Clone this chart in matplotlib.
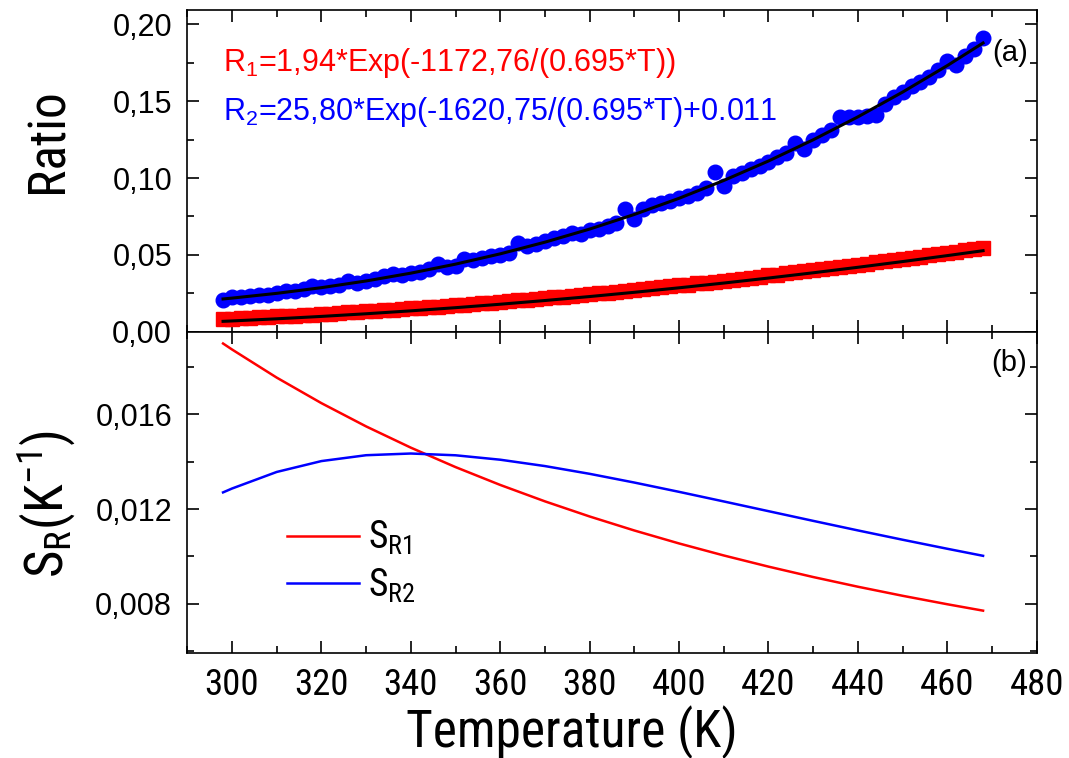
import matplotlib
matplotlib.use("Agg")
import matplotlib.pyplot as plt
from matplotlib.ticker import MultipleLocator, FuncFormatter
from matplotlib import font_manager


def first_font(names):
    for n in names:
        try:
            font_manager.findfont(font_manager.FontProperties(family=n), fallback_to_default=False)
            return n
        except ValueError:
            pass
    return 'Liberation Sans'


NARROW = first_font(['Arial Narrow', 'Liberation Sans Narrow', 'Roboto Condensed',
                     'Archivo Narrow', 'PT Sans Narrow', 'Open Sans Condensed'])

plt.rcParams['font.family'] = ['Liberation Sans', 'DejaVu Sans']
plt.rcParams['mathtext.fontset'] = 'custom'
plt.rcParams['mathtext.rm'] = NARROW
plt.rcParams['mathtext.it'] = NARROW + ':italic'

# measured points, 2 K steps
temp = [298, 300, 302, 304, 306, 308, 310, 312, 314, 316, 318, 320, 322, 324, 326, 328,
        330, 332, 334, 336, 338, 340, 342, 344, 346, 348, 350, 352, 354, 356, 358, 360,
        362, 364, 366, 368, 370, 372, 374, 376, 378, 380, 382, 384, 386, 388, 390, 392,
        394, 396, 398, 400, 402, 404, 406, 408, 410, 412, 414, 416, 418, 420, 422, 424,
        426, 428, 430, 432, 434, 436, 438, 440, 442, 444, 446, 448, 450, 452, 454, 456,
        458, 460, 462, 464, 466, 468]

ratio_r1 = [0.0083, 0.0085, 0.0087, 0.0089, 0.0093, 0.0094, 0.0099, 0.0101, 0.0105, 0.0108,
            0.0110, 0.0115, 0.0117, 0.0121, 0.0125, 0.0127, 0.0133, 0.0135, 0.0139, 0.0143,
            0.0147, 0.0151, 0.0154, 0.0160, 0.0163, 0.0167, 0.0172, 0.0175, 0.0181, 0.0185,
            0.0189, 0.0194, 0.0199, 0.0203, 0.0208, 0.0213, 0.0218, 0.0224, 0.0228, 0.0234,
            0.0238, 0.0245, 0.0249, 0.0255, 0.0261, 0.0266, 0.0272, 0.0277, 0.0284, 0.0290,
            0.0295, 0.0302, 0.0307, 0.0314, 0.0320, 0.0326, 0.0333, 0.0339, 0.0346, 0.0352,
            0.0358, 0.0366, 0.0372, 0.0379, 0.0386, 0.0393, 0.0400, 0.0407, 0.0414, 0.0421,
            0.0429, 0.0436, 0.0443, 0.0451, 0.0459, 0.0466, 0.0474, 0.0482, 0.0489, 0.0497,
            0.0505, 0.0513, 0.0521, 0.0529, 0.0537, 0.0545]

ratio_r2 = [0.0205, 0.0225, 0.0228, 0.0232, 0.0240, 0.0238, 0.0255, 0.0268, 0.0262, 0.0275,
            0.0300, 0.0290, 0.0295, 0.0305, 0.0330, 0.0318, 0.0330, 0.0345, 0.0365, 0.0375,
            0.0372, 0.0385, 0.0390, 0.0405, 0.0440, 0.0420, 0.0425, 0.0475, 0.0468, 0.0480,
            0.0490, 0.0500, 0.0512, 0.0575, 0.0555, 0.0570, 0.0590, 0.0610, 0.0625, 0.0640,
            0.0635, 0.0660, 0.0668, 0.0690, 0.0705, 0.0800, 0.0730, 0.0800, 0.0825, 0.0835,
            0.0850, 0.0870, 0.0885, 0.0905, 0.0935, 0.1040, 0.0950, 0.1010, 0.1035, 0.1060,
            0.1080, 0.1105, 0.1135, 0.1165, 0.1230, 0.1190, 0.1250, 0.1280, 0.1310, 0.1395,
            0.1400, 0.1400, 0.1405, 0.1410, 0.1480, 0.1530, 0.1560, 0.1600, 0.1625, 0.1655,
            0.1700, 0.1760, 0.1735, 0.1795, 0.1840, 0.1910]

# fitted curves and sensitivities, 10 K steps
temp_fit = [298, 300, 310, 320, 330, 340, 350, 360, 370, 380, 390, 400, 410, 420, 430,
            440, 450, 460, 468]
fit_r1 = [0.00674, 0.00700, 0.00839, 0.00995, 0.01167, 0.01357, 0.01563, 0.01787, 0.02029,
          0.02287, 0.02563, 0.02856, 0.03165, 0.03491, 0.03833, 0.04191, 0.04563, 0.04951,
          0.05271]
fit_r2 = [0.02130, 0.02186, 0.02495, 0.02865, 0.03301, 0.03809, 0.04396, 0.05066, 0.05825,
          0.06677, 0.07628, 0.08680, 0.09839, 0.11106, 0.12485, 0.13978, 0.15589, 0.17315,
          0.18785]
s_r1 = [0.019001, 0.018749, 0.017559, 0.016479, 0.015495, 0.014597, 0.013775, 0.013020,
        0.012326, 0.011686, 0.011094, 0.010546, 0.010038, 0.009566, 0.009126, 0.008716,
        0.008333, 0.007975, 0.007704]
s_r2 = [0.012705, 0.012868, 0.013569, 0.014029, 0.014277, 0.014349, 0.014274, 0.014087,
        0.013818, 0.013490, 0.013121, 0.012728, 0.012322, 0.011911, 0.011501, 0.011097,
        0.010703, 0.010321, 0.010023]

fig = plt.figure(figsize=(10.69, 7.58), dpi=100)
ax1 = fig.add_axes([0.1752, 0.5624, 0.7946, 0.4244])
ax2 = fig.add_axes([0.1752, 0.1381, 0.7946, 0.4243])

# (a) ratios
ax1.plot(temp, ratio_r1, 's', color='#ff0000', ms=9.5, mec='#ff0000')
ax1.plot(temp, ratio_r2, 'o', color='#0000ff', ms=10.5, mec='#0000ff')
ax1.plot(temp_fit, fit_r1, color='black', lw=2.2)
ax1.plot(temp_fit, fit_r2, color='black', lw=2.2)
ax1.set_ylim(0, 0.2093)
ax1.yaxis.set_major_locator(MultipleLocator(0.05))
ax1.yaxis.set_minor_locator(MultipleLocator(0.025))
ax1.yaxis.set_major_formatter(FuncFormatter(lambda v, p: f'{v:.2f}'.replace('.', ',')))
ax1.text(298, 0.1748, r'R$_\mathregular{1}$=1,94*Exp(-1172,76/(0.695*T))', color='#ff0000',
         fontsize=22, va='center')
ax1.text(298, 0.143, r'R$_\mathregular{2}$=25,80*Exp(-1620,75/(0.695*T)+0.011', color='#0000ff',
         fontsize=22, va='center')
ax1.text(0.99, 0.865, '(a)', transform=ax1.transAxes, fontsize=21, ha='right', va='center')

# (b) sensitivities
ax2.plot(temp_fit, s_r1, color='#ff0000', lw=1.8, label=r'S$_\mathregular{R1}$')
ax2.plot(temp_fit, s_r2, color='#0000ff', lw=1.8, label=r'S$_\mathregular{R2}$')
ax2.set_ylim(0.0059, 0.0195)
ax2.yaxis.set_major_locator(MultipleLocator(0.004))
ax2.yaxis.set_minor_locator(MultipleLocator(0.002))
ax2.yaxis.set_major_formatter(FuncFormatter(lambda v, p: f'{v:.3f}'.replace('.', ',')))
ax2.text(0.988, 0.904, '(b)', transform=ax2.transAxes, fontsize=21, ha='right', va='center')
ax2.legend(loc='center left', bbox_to_anchor=(0.078, 0.285), frameon=False,
           prop={'family': NARROW, 'size': 27},
           handlelength=1.9, handletextpad=0.25, labelspacing=0.25)

for ax in (ax1, ax2):
    ax.set_xlim(290, 480)
    ax.xaxis.set_major_locator(MultipleLocator(20))
    ax.xaxis.set_minor_locator(MultipleLocator(10))
    ax.tick_params(which='both', direction='in', top=True, right=True, width=1.2)
    ax.tick_params(which='major', length=8.9)
    ax.tick_params(which='minor', length=5.2)
    ax.tick_params(axis='y', labelsize=22, pad=11)
    ax.tick_params(axis='x', labelsize=26.5, pad=10)
    for lab in ax.get_xticklabels():
        lab.set_family(NARROW)
    for s in ax.spines.values():
        s.set_linewidth(1.2)
ax1.tick_params(labelbottom=False)

fig.text(0.045, 0.815, 'Ratio', rotation=90, fontsize=37, ha='center', va='center',
         family=NARROW)
fig.text(0.043, 0.335, r'S$_\mathregular{R}$(K$^\mathregular{-1}$)', rotation=90, fontsize=38,
         ha='center', va='center', family=NARROW)
fig.text(0.535, 0.034, 'Temperature (K)', fontsize=37, ha='center', va='center',
         family=NARROW)

fig.savefig('out.png', dpi=100)
